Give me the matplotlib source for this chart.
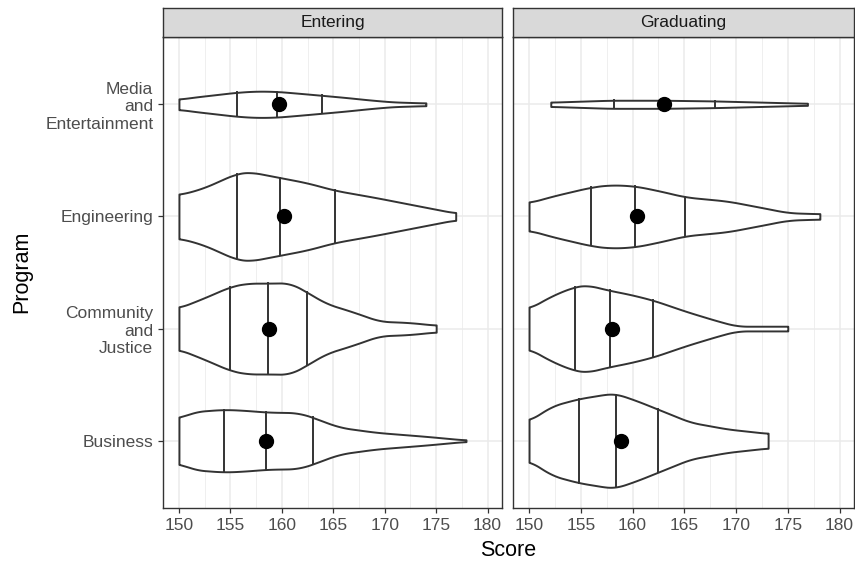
import matplotlib.pyplot as plt
import numpy as np

plt.rcParams['font.family'] = ['Liberation Sans', 'DejaVu Sans']

programs = ["Business", "Community\nand\nJustice", "Engineering", "Media\nand\nEntertainment"]
phases = ["Entering", "Graduating"]

# violin outlines: score grid and half width (in category units)
entering_scores = [
    [150.0, 151.4, 154.4, 156.6, 158.5, 161.7, 163.0, 165.6, 169.2, 174.0, 177.9],
    [150.0, 152.3, 155.0, 156.6, 158.7, 160.8, 162.4, 164.3, 166.9, 169.5, 172.4, 175.0],
    [150.0, 152.3, 155.6, 156.9, 159.9, 162.4, 165.2, 169.2, 173.4, 176.9],
    [150.0, 151.4, 155.6, 157.5, 159.5, 161.7, 163.9, 166.3, 168.5, 170.8, 174.0],
]
entering_width = [
    [0.199, 0.259, 0.280, 0.270, 0.255, 0.250, 0.208, 0.119, 0.074, 0.039, 0.006],
    [0.185, 0.268, 0.375, 0.405, 0.405, 0.408, 0.327, 0.223, 0.149, 0.065, 0.054, 0.030],
    [0.193, 0.250, 0.385, 0.398, 0.345, 0.301, 0.232, 0.167, 0.092, 0.030],
    [0.045, 0.063, 0.107, 0.118, 0.115, 0.098, 0.080, 0.060, 0.039, 0.021, 0.012],
]
graduating_scores = [
    [150.0, 152.3, 154.8, 157.8, 158.4, 160.4, 162.4, 165.6, 169.2, 173.1],
    [150.0, 152.3, 154.4, 155.6, 157.7, 159.8, 162.0, 165.3, 168.2, 170.1, 175.0],
    [150.0, 152.3, 156.0, 157.8, 160.2, 162.7, 165.1, 169.2, 173.4, 175.0, 178.1],
    [152.1, 157.8, 163.0, 167.9, 176.9],
]
graduating_width = [
    [0.179, 0.313, 0.375, 0.420, 0.420, 0.357, 0.283, 0.164, 0.104, 0.065],
    [0.179, 0.298, 0.375, 0.390, 0.342, 0.304, 0.253, 0.149, 0.068, 0.021, 0.021],
    [0.122, 0.182, 0.262, 0.283, 0.273, 0.226, 0.173, 0.137, 0.063, 0.033, 0.024],
    [0.019, 0.036, 0.036, 0.030, 0.009],
]

# 25th, 50th, 75th percentiles and mean
entering_q = [[154.35, 158.5, 163.0], [155.0, 158.65, 162.4], [155.6, 159.85, 165.2], [155.6, 159.5, 163.9]]
entering_mean = [158.5, 158.75, 160.2, 159.7]
graduating_q = [[154.8, 158.4, 162.5], [154.4, 157.8, 162.0], [156.0, 160.2, 165.1], [158.2, 163.0, 167.95]]
graduating_mean = [158.9, 158.0, 160.45, 163.0]

xticks = [150, 155, 160, 165, 170, 175, 180]

W, H = 855, 567
fig = plt.figure(figsize=(W / 100, H / 100), dpi=100)

panels = [
    (163, 502, entering_scores, entering_width, entering_q, entering_mean),
    (513, 854, graduating_scores, graduating_width, graduating_q, graduating_mean),
]
top, bottom = 37, 508
dark = "#333333"


def smooth_outline(xs, ws):
    grid = np.linspace(xs[0], xs[-1], 300)
    hw = np.interp(grid, xs, ws)
    k = 12
    padded = np.pad(hw, k, mode="edge")
    hw = np.convolve(padded, np.ones(2 * k + 1) / (2 * k + 1), mode="same")[k:-k]
    return grid, hw


for idx, (x0, x1, scores, widths, quants, means) in enumerate(panels):
    ax = fig.add_axes([x0 / W, (H - bottom) / H, (x1 - x0) / W, (bottom - top) / H])
    ax.set_xlim(148.45, 181.4)
    ax.set_ylim(0.4, 4.6)
    ax.set_xticks(xticks)
    ax.set_xticks(np.arange(152.5, 181, 5), minor=True)
    ax.set_yticks(range(1, 5))
    ax.grid(which="major", color="#EBEBEB", lw=1.1)
    ax.grid(which="minor", axis="x", color="#EBEBEB", lw=0.55)
    ax.set_axisbelow(True)
    for sp in ax.spines.values():
        sp.set_color(dark)
        sp.set_linewidth(1.0)
    ax.tick_params(which="major", length=3.5, width=0.9, color=dark, labelcolor="#4D4D4D", labelsize=12.5)
    ax.tick_params(which="minor", length=0)
    if idx == 0:
        ax.set_yticklabels(programs)
    else:
        ax.tick_params(axis="y", which="major", length=0, labelleft=False)

    for i in range(4):
        y = i + 1
        grid, hw = smooth_outline(scores[i], widths[i])
        ax.fill_between(grid, y - hw, y + hw, facecolor="white", edgecolor=dark, lw=1.4, zorder=2)
        for q in quants[i]:
            h = np.interp(q, grid, hw)
            ax.plot([q, q], [y - h, y + h], color=dark, lw=1.4, zorder=3)
        ax.scatter([means[i]], [y], s=100, color="black", zorder=4)

    strip = fig.add_axes([x0 / W, (H - top) / H, (x1 - x0) / W, 29 / H])
    strip.set_facecolor("#D9D9D9")
    strip.set_xticks([])
    strip.set_yticks([])
    for sp in strip.spines.values():
        sp.set_color(dark)
        sp.set_linewidth(1.0)
    strip.text(0.5, 0.5, phases[idx], ha="center", va="center", fontsize=12.5, color="#1A1A1A",
               transform=strip.transAxes)

fig.text((163 + 854) / 2 / W, 1 - 550 / H, "Score", ha="center", va="center", fontsize=15.5)
fig.text(22 / W, 1 - 272 / H, "Program", ha="center", va="center", rotation=90, fontsize=15.5)

fig.savefig("out.png", dpi=100)
